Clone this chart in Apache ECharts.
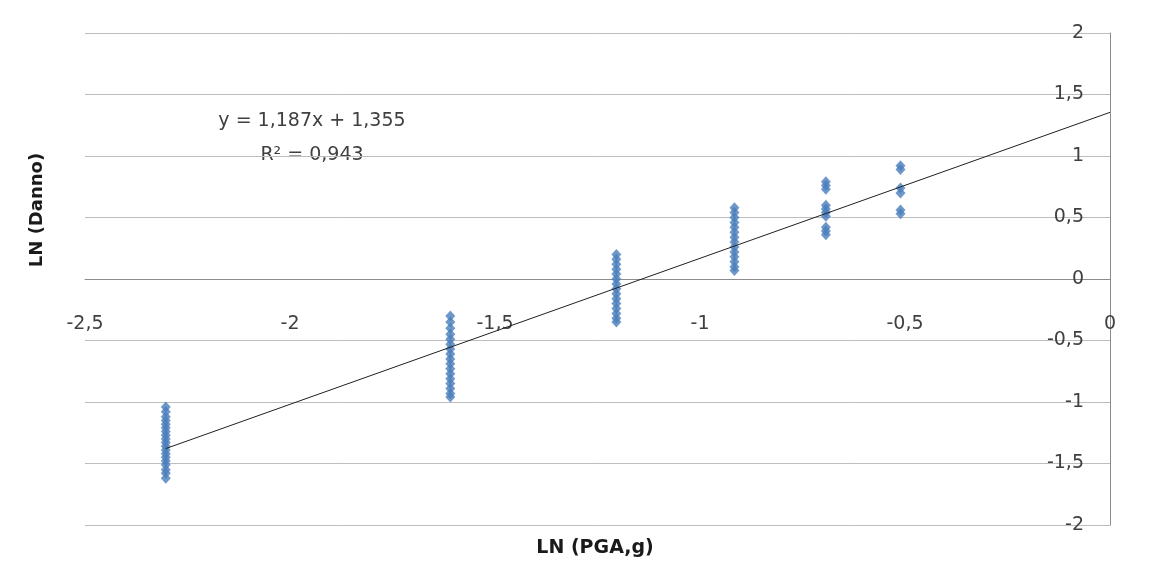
<!DOCTYPE html>
<html>
<head>
<meta charset="utf-8">
<style>
  html, body { margin: 0; padding: 0; background: #ffffff; }
  #chart { width: 1161px; height: 588px; }
</style>
<script src="https://cdn.jsdelivr.net/npm/echarts@6/dist/echarts.min.js"></script>
</head>
<body>
<div id="chart"></div>
<script>
// LN(PGA) levels (PGA = 0.1 ... 0.6 g)
var lnPga = [-2.303, -1.609, -1.204, -0.916, -0.693, -0.511];

// LN(Danno) observations at each PGA level
var dannoA = [-1.04, -1.08, -1.12, -1.15, -1.18, -1.21, -1.24, -1.27, -1.30, -1.33, -1.36, -1.39, -1.42, -1.45, -1.48, -1.51, -1.55, -1.58, -1.62];
var dannoB = [-0.30, -0.35, -0.40, -0.45, -0.49, -0.53, -0.57, -0.61, -0.65, -0.69, -0.73, -0.77, -0.81, -0.85, -0.89, -0.93, -0.96];
var dannoC = [0.20, 0.16, 0.12, 0.08, 0.04, 0.00, -0.04, -0.08, -0.12, -0.16, -0.20, -0.24, -0.28, -0.32, -0.35];
var dannoD = [0.58, 0.54, 0.50, 0.46, 0.42, 0.38, 0.34, 0.30, 0.26, 0.22, 0.18, 0.14, 0.10, 0.07];
var dannoE = [0.79, 0.76, 0.73, 0.60, 0.57, 0.54, 0.51, 0.42, 0.39, 0.36];
var dannoF = [0.92, 0.89, 0.74, 0.70, 0.56, 0.53];

// Linear regression
var slope = 1.187;
var intercept = 1.355;
var rSquared = 0.943;
var trendRange = [-2.303, 0];

var groups = [dannoA, dannoB, dannoC, dannoD, dannoE, dannoF];
var points = [];
groups.forEach(function (vals, i) {
  vals.forEach(function (v) { points.push([lnPga[i], v]); });
});
var trend = trendRange.map(function (x) { return [x, slope * x + intercept]; });

function comma(v) { return String(v).replace('.', ','); }

var font = '"DejaVu Sans", sans-serif';
var chart = echarts.init(document.getElementById('chart'), null, { renderer: 'canvas' });
chart.setOption({
  animation: false,
  backgroundColor: '#ffffff',
  grid: { left: 85, right: 51, top: 33, bottom: 63, containLabel: false, outerBoundsMode: 'none' },
  xAxis: {
    type: 'value', min: -2.5, max: 0, interval: 0.5,
    position: 'bottom',
    // the horizontal axis sits at LN(Danno) = 0, half way up the plot
    offset: -246,
    axisLine: { onZero: false, lineStyle: { color: '#8c8c8c', width: 1 } },
    axisTick: { show: false },
    splitLine: { show: false },
    axisLabel: { margin: 36, color: '#404040', fontFamily: font, fontSize: 19, formatter: comma }
  },
  yAxis: {
    type: 'value', min: -2, max: 2, interval: 0.5, position: 'right',
    axisLine: { show: true, onZero: false, lineStyle: { color: '#8c8c8c', width: 1 } },
    axisTick: { show: false },
    splitLine: { show: true, lineStyle: { color: '#bdbdbd', width: 1 } },
    axisLabel: { inside: true, margin: 26, color: '#404040', fontFamily: font, fontSize: 19, formatter: comma }
  },
  series: [
    {
      type: 'scatter',
      data: points,
      symbol: 'diamond',
      symbolSize: [10, 11],
      itemStyle: { color: '#4a7ebb' },
      z: 3
    },
    {
      type: 'line',
      data: trend,
      symbol: 'none',
      lineStyle: { color: '#202020', width: 1 },
      z: 4
    }
  ],
  graphic: [
    {
      type: 'text', x: 312, y: 121,
      style: {
        text: 'y = ' + comma(slope) + 'x + ' + comma(intercept),
        fill: '#404040', font: '19px ' + font, align: 'center', verticalAlign: 'middle'
      }
    },
    {
      type: 'text', x: 312, y: 155,
      style: {
        text: 'R² = ' + comma(rSquared),
        fill: '#404040', font: '19px ' + font, align: 'center', verticalAlign: 'middle'
      }
    },
    {
      type: 'text', x: 595, y: 548,
      style: { text: 'LN (PGA,g)', fill: '#1a1a1a', font: 'bold 19px ' + font, align: 'center', verticalAlign: 'middle' }
    },
    {
      type: 'text', x: 37, y: 210, rotation: Math.PI / 2,
      style: { text: 'LN (Danno)', fill: '#1a1a1a', font: 'bold 18px ' + font, align: 'center', verticalAlign: 'middle' }
    }
  ]
});
</script>
</body>
</html>
